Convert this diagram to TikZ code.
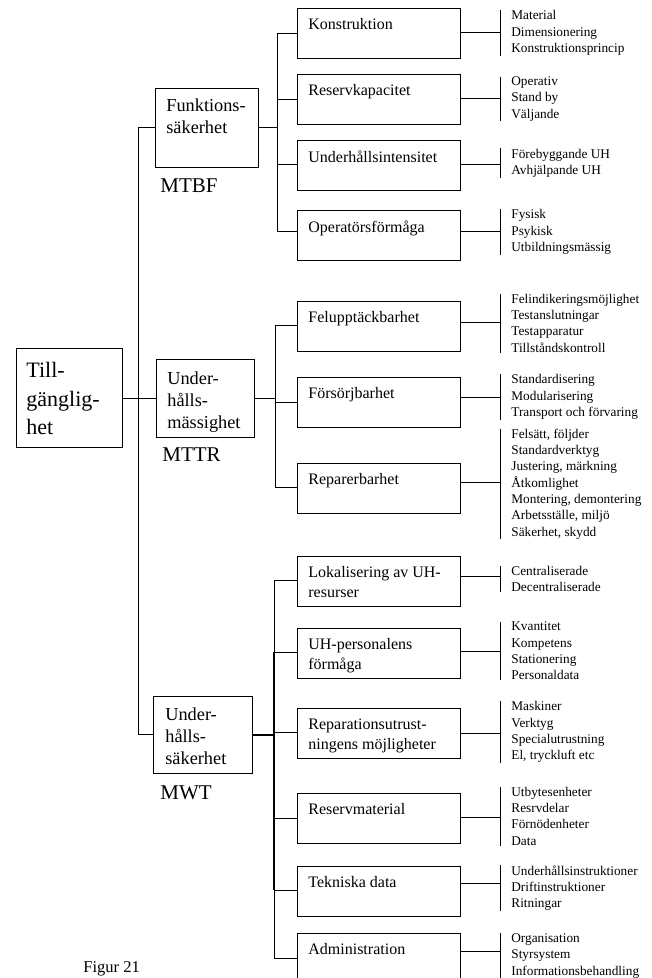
\documentclass[tikz,border=0pt]{standalone}
\usepackage{fontspec}
\setmainfont{Liberation Serif}
\begin{document}
% one branch of the third level: box, its label, its item list and connectors
% #1 name, #2 box top, #3 branch y (from bus), #4 connector y (to items),
% #5 centre y of item list, #6 bus coordinate, #7 box label, #8 items
\newcommand{\grenrad}[8]{%
  \node[box3] (#1B) at (297,#2) {};
  \node[lab3] (#1T) at ([xshift=11pt,yshift=-10.5pt]#1B.north west) {#7};
  \node[items] (#1I) at (500,#5) {#8};
  \draw (#1I.north west) -- (#1I.south west);
  \draw (#1B.east |- 0,#4) -- (#1I.west |- 0,#4);
  \draw (#6 |- 0,#3) -- (#1B.west |- 0,#3);
}
\begin{tikzpicture}[x=1pt,y=-1pt,line width=0.75pt,
  box3/.style={draw,anchor=north west,minimum width=163pt,minimum height=49.5pt,inner sep=0pt},
  box2/.style={draw,anchor=north west,inner sep=0pt},
  lab3/.style={anchor=north west,inner sep=0pt,align=left,font=\fontsize{16}{20}\selectfont},
  lab2/.style={anchor=north west,inner sep=0pt,align=left,font=\fontsize{18.3}{22.3}\selectfont},
  lab1/.style={anchor=north west,inner sep=0pt,align=left,font=\fontsize{22}{28.5}\selectfont},
  mtlabel/.style={anchor=west,inner sep=0pt,font=\fontsize{21}{25}\selectfont},
  items/.style={anchor=west,inner xsep=11pt,inner ysep=0pt,align=left,font=\fontsize{13.3}{16.3}\selectfont},
  heavy/.style={line width=1.5pt}]
\clip (0,0) rectangle (652,978);

% root
\node[box2,minimum width=106pt,minimum height=99pt] (root) at (16,348) {};
\node[lab1] (rootT) at ([xshift=10pt,yshift=-14pt]root.north west) {Till-\\gänglig-\\het};

% second level
\node[box2,minimum width=103pt,minimum height=79pt] (funB) at (155,88) {};
\node[lab2] (funT) at ([xshift=11pt,yshift=-10.5pt]funB.north west) {Funktions-\\säkerhet};
\node[mtlabel] (mtbf) at (160,186) {MTBF};

\node[box2,minimum width=98pt,minimum height=78pt] (umB) at (156,359) {};
\node[lab2] (umT) at ([xshift=11pt,yshift=-12pt]umB.north west) {Under-\\hålls-\\mässighet};
\node[mtlabel] (mttr) at (162,455) {MTTR};

\node[box2,minimum width=99pt,minimum height=77pt] (usB) at (153,696) {};
\node[lab2] (usT) at ([xshift=12pt,yshift=-11pt]usB.north west) {Under-\\hålls-\\säkerhet};
\node[mtlabel] (mwt) at (160,793) {MWT};

% trunk joining the second level
\coordinate (trTop) at (138,127);
\coordinate (trBot) at (138,734);
\draw (trTop) -- (trBot);
\draw (trTop) -- (trTop -| funB.west);
\draw (root.east) -- (root.east -| umB.west);
\draw (trBot) -- (trBot -| usB.west);

% buses of the third level
\coordinate (b1t) at (277,33);  \coordinate (b1b) at (277,231);
\coordinate (b2t) at (275,325); \coordinate (b2b) at (275,487);
\coordinate (b3t) at (274,580); \coordinate (b3b) at (274,958);
\coordinate (b3m) at (274,652); \coordinate (b3n) at (274,890);
\draw (b1t) -- (b1b);
\draw (b2t) -- (b2b);
\draw (b3t) -- (b3b);
\draw[heavy] (b3m) -- (b3n);
\draw[line width=1.2pt] (funB.east) -- (funB.east -| b1t);
\draw (umB.east) -- (umB.east -| b2t);
\draw[heavy] (usB.east) -- (usB.east -| b3t);

% Funktionssäkerhet
\grenrad{kon}{8}{33}{32}{33}{b1t}{Konstruktion}{Material\\Dimensionering\\Konstruktionsprincip}
\grenrad{res}{74}{99}{98}{99}{b1t}{Reservkapacitet}{Operativ\\Stand by\\Väljande}
\grenrad{und}{140}{164}{164}{163}{b1t}{Underhållsintensitet}{Förebyggande UH\\Avhjälpande UH}
\grenrad{ope}{210}{231}{231}{232}{b1t}{Operatörsförmåga}{Fysisk\\Psykisk\\Utbildningsmässig}

% Underhållsmässighet
\grenrad{fel}{301}{325}{322}{323}{b2t}{Felupptäckbarhet}{Felindikeringsmöjlighet\\Testanslutningar\\Testapparatur\\Tillståndskontroll}
\grenrad{for}{377}{402}{397}{397}{b2t}{Försörjbarhet}{Standardisering\\Modularisering\\Transport och förvaring}
\grenrad{rep}{463}{487}{482}{484}{b2t}{Reparerbarhet}{Felsätt, följder\\Standardverktyg\\Justering, märkning\\Åtkomlighet\\Montering, demontering\\Arbetsställe, miljö\\Säkerhet, skydd}

% Underhållssäkerhet
\grenrad{lok}{556}{580}{576}{579}{b3t}{Lokalisering av UH-\\resurser}{Centraliserade\\Decentraliserade}
\grenrad{uhp}{628}{652}{651}{651}{b3t}{UH-personalens\\förmåga}{Kvantitet\\Kompetens\\Stationering\\Personaldata}
\grenrad{rpu}{708}{732}{733}{732}{b3t}{Reparationsutrust-\\ningens möjligheter}{Maskiner\\Verktyg\\Specialutrustning\\El, tryckluft etc}
\grenrad{rsm}{793}{818}{817}{816}{b3t}{Reservmaterial}{Utbytesenheter\\Resrvdelar\\Förnödenheter\\Data}
\grenrad{tek}{866}{890}{883}{888}{b3t}{Tekniska data}{Underhållsinstruktioner\\Driftinstruktioner\\Ritningar}
\grenrad{adm}{933}{958}{951}{956}{b3t}{Administration}{Organisation\\Styrsystem\\Informationsbehandling}

% caption
\node[anchor=base west,inner sep=0pt,font=\fontsize{16.5}{20}\selectfont] (fig) at (83,972) {Figur 21};
\end{tikzpicture}
\end{document}
